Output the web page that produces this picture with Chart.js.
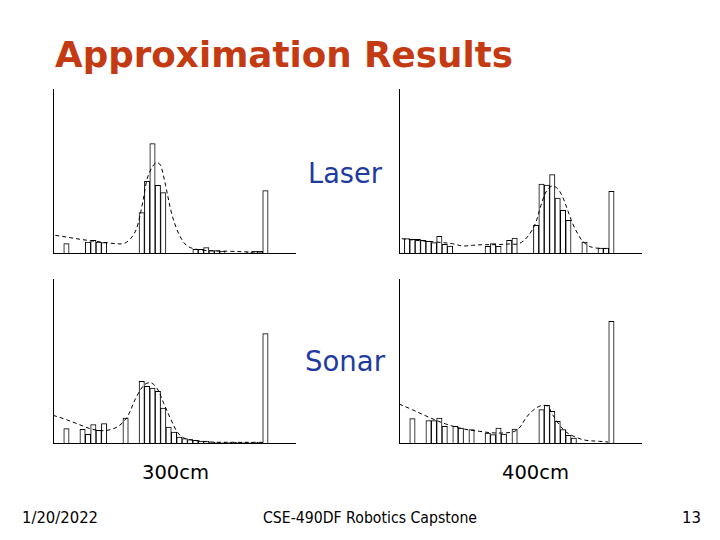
<!DOCTYPE html>
<html>
<head>
<meta charset="utf-8">
<script src="https://cdn.jsdelivr.net/npm/chart.js@4/dist/chart.umd.min.js"></script>
<style>
  html, body { margin:0; padding:0; background:#fff; }
  #page { position:relative; width:720px; height:540px; overflow:hidden; background:#fff; }
  canvas.h { position:absolute; }
  .t { position:absolute; white-space:nowrap; line-height:1; transform-origin:0 0; font-family:"DejaVu Sans", sans-serif; }
</style>
</head>
<body>
<div id="page">
  <canvas class="h" id="c1" width="246" height="168" style="left:51px;top:87px"></canvas>
  <canvas class="h" id="c2" width="246" height="168" style="left:397px;top:87px"></canvas>
  <canvas class="h" id="c3" width="246" height="168" style="left:51px;top:277px"></canvas>
  <canvas class="h" id="c4" width="246" height="168" style="left:397px;top:277px"></canvas>
</div>
<script>
// ---- Data (histogram bins, 45 bins per panel; heights in arbitrary units) ----
const binCount = 45;
const laser300 = [0,0,9.3,0,0,0,11,12.7,11,10.3,0,0,0,0,0,0,40.3,71.7,109.3,67.7,60.3,0,0,0,0,0,3.7,3.7,5.3,2.3,2.3,1.7,0,0,0,0,1,1.7,1.7,62.3,0,0,0,0,0];
const laser400 = [0,14.3,13.7,13.7,12.7,11.7,10.3,16.7,8.7,7,0,0,0,0,0,0,6.7,9.3,6.7,0,12.7,15,0,0,0,27.7,69,68,78.3,55,42.7,32.7,0,0,11,0,0,5,5,61.7,0,0,0,0,0];
const sonar300 = [0,0,14.3,0,0,13.7,8.7,18.3,12.7,19.3,0,0,0,25,0,0,61.7,56.7,55,51.7,35,16,11,6,4.3,3.3,2.7,2,2,1,0.7,0.7,0.5,0.7,0.7,0.7,0.7,0.7,0.7,109.3,0,0,0,0,0];
const sonar400 = [0,0,24.3,0,0,22.3,22.3,25,16.7,0,16.7,15,0,13.3,0,0,10,8.3,15,9,0,14,0,0,0,0,33.3,37.7,31.7,21.7,13.3,7.7,5,0,0,0,0,0,0,121.7,0,0,0,0,0];

// ---- Approximation curves (x in bin units, y in same units as bins) ----
const laser300FitX = [0.43,3.23,5.09,6.96,10.06,13.04,14.41,15.53,16.58,17.52,18.45,19.25,20.0,20.93,21.99,22.98,24.04,24.97,26.21,28.07,30.56,33.04,36.77,39.0];
const laser300FitY = [17.7,15.3,13.7,12.3,10.3,9.3,14.3,24.3,47.7,74.3,86,90.3,87.7,67.7,41,24.3,12.7,7,4.3,2.7,2,1.7,1,1];
const laser400FitX = [0.5,3.1,6.83,9.94,11.8,13.66,15.53,18.01,20.5,22.05,23.29,24.53,25.47,26.4,27.33,28.45,29.5,30.43,31.37,32.3,33.23,34.16,35.4,36.65,38.88];
const laser400FitY = [14.3,12.7,11,9.3,7,7.7,8.3,8.3,9,9,12.7,21,31,47.7,61,67,64.3,56,42.7,29.3,19.3,11.7,6.7,5,4.3];
const sonar300FitX = [0,1.99,4.47,6.96,9.44,11.93,13.79,15.34,16.89,18.14,19.38,20.62,21.86,23.11,24.35,26.21,29.32,33.66,39.0];
const sonar300FitY = [27.7,24.3,19.3,14.3,12.3,16,26,44.3,57.7,60.3,54.3,39.3,24.3,11,5,2.7,1,0.7,0.7];
const sonar400FitX = [0,2.48,5.59,8.7,11.8,14.91,18.01,21.12,22.36,23.6,24.84,26.4,27.64,28.57,29.81,31.06,32.92,34.78,37.27,38.88];
const sonar400FitY = [39,33.3,25.7,19,14.3,11.7,10,11,15,25,32.3,37.3,36.7,28.3,18.3,11,5.7,2.7,1.7,1];

const yMax = 164;

// ---- Texts ----
const titleText = "Approximation Results";
const rowLabels = ["Laser", "Sonar"];
const colLabels = ["300cm", "400cm"];
const footerTexts = ["1/20/2022", "CSE-490DF Robotics Capstone", "13"];

function makeChart(id, bins, fx, fy) {
  const barData = bins.map((v, i) => ({ x: i + 0.5, y: v }));
  const lineData = fx.map((x, i) => ({ x: x, y: fy[i] }));
  new Chart(document.getElementById(id), {
    data: {
      datasets: [
        { type: 'line', data: lineData, borderColor: '#000', borderWidth: 1, borderDash: [4, 3],
          pointRadius: 0, tension: 0.35, fill: false, order: 1 },
        { type: 'bar', data: barData, backgroundColor: '#fff', borderColor: '#000', borderWidth: 1,
          barPercentage: 1, categoryPercentage: 1, order: 2 }
      ]
    },
    options: {
      responsive: false, animation: false, events: [],
      layout: { padding: 2 },
      plugins: { legend: { display: false }, tooltip: { enabled: false } },
      scales: {
        x: { type: 'linear', min: 0, max: binCount, offset: false,
             ticks: { display: false }, grid: { display: false, drawTicks: false },
             border: { display: true, color: '#000', width: 1 } },
        y: { min: 0, max: yMax,
             ticks: { display: false }, grid: { display: false, drawTicks: false },
             border: { display: true, color: '#000', width: 1 } }
      }
    }
  });
}

makeChart('c1', laser300, laser300FitX, laser300FitY);
makeChart('c2', laser400, laser400FitX, laser400FitY);
makeChart('c3', sonar300, sonar300FitX, sonar300FitY);
makeChart('c4', sonar400, sonar400FitX, sonar400FitY);

const page = document.getElementById('page');
function addText(txt, left, baseline, width, size, color, bold) {
  const d = document.createElement('div');
  d.className = 't';
  d.textContent = txt;
  d.style.fontSize = size + 'px';
  d.style.color = color;
  d.style.fontWeight = bold ? 'bold' : 'normal';
  d.style.left = left + 'px';
  d.style.top = (baseline - 0.846 * size) + 'px';
  page.appendChild(d);
  const w = d.getBoundingClientRect().width;
  d.style.transform = 'scaleX(' + (width / w) + ')';
}

addText(titleText, 55, 68, 458, 35, '#c43a12', true);
addText(rowLabels[0], 308, 184, 74, 29, '#1f3b9e', false);
addText(rowLabels[1], 305, 372, 80, 29, '#1f3b9e', false);
addText(colLabels[0], 142, 479, 67, 20, '#000', false);
addText(colLabels[1], 502, 479, 67, 20, '#000', false);
addText(footerTexts[0], 22, 524, 76, 15, '#000', false);
addText(footerTexts[1], 263, 524, 214, 15, '#000', false);
addText(footerTexts[2], 682, 524, 19, 15, '#000', false);
</script>
</body>
</html>
